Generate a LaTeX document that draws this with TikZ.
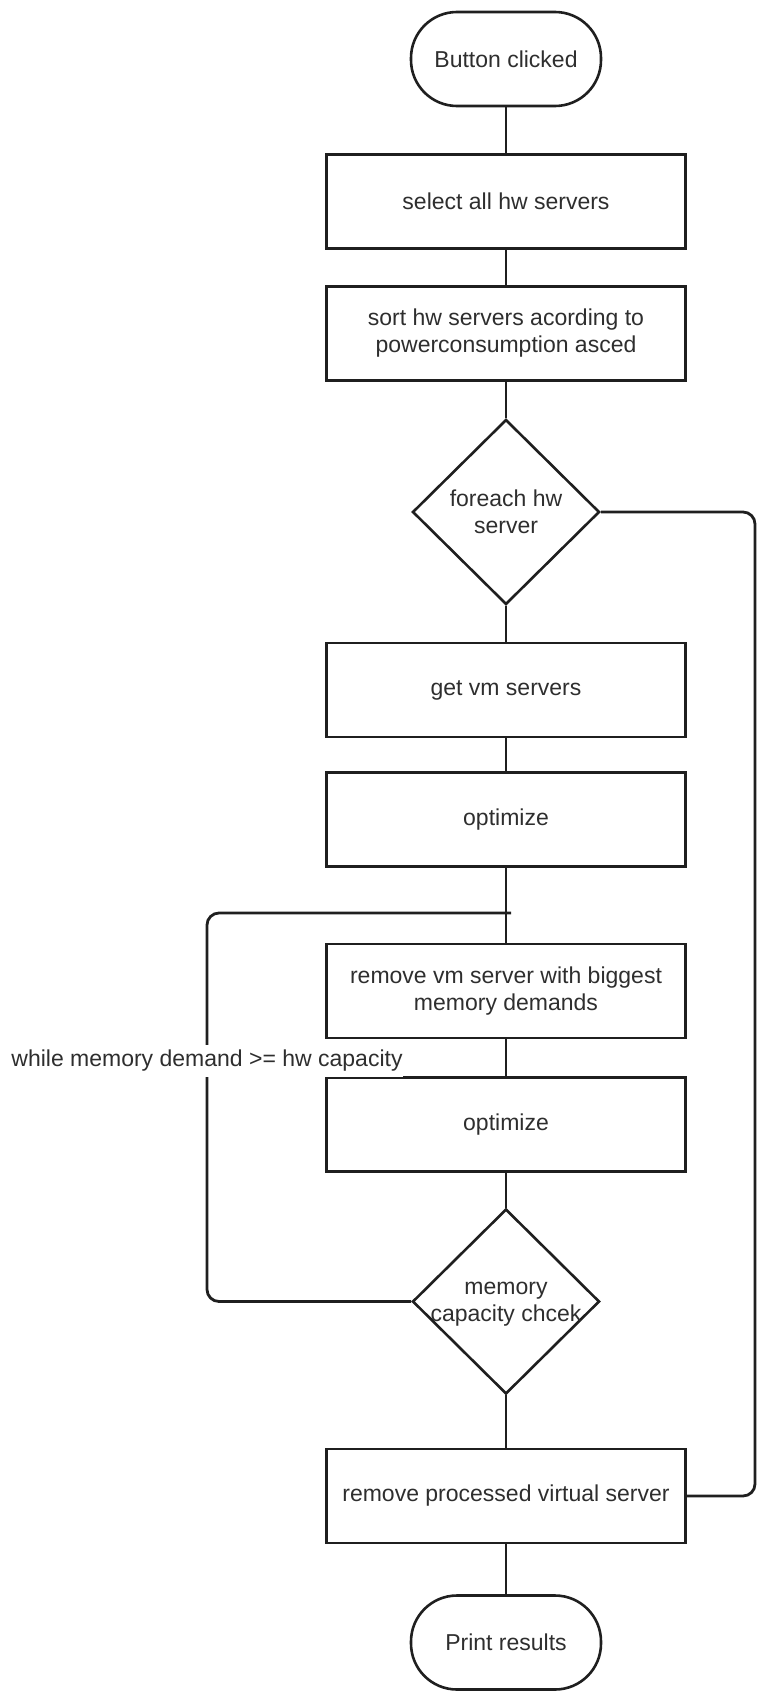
\documentclass[tikz,border=0pt]{standalone}
\usepackage{fontspec}
\setmainfont{Liberation Sans}
\usetikzlibrary{shapes.geometric}
\begin{document}
\begin{tikzpicture}[
  x=1pt, y=-1pt,
  every node/.style={font=\fontsize{23}{27}\selectfont, text=black!82},
  flow/.style={draw=black!88, line width=2.6pt},
  procbox/.style={flow, rectangle, minimum width=359pt, minimum height=94pt, align=center, inner sep=0pt},
  terminal/.style={flow, rectangle, rounded corners=46pt, minimum width=190pt, minimum height=94pt, inner sep=0pt},
  decision/.style={flow, diamond, minimum width=187pt, minimum height=185pt, inner sep=0pt},
  link/.style={draw=black!88, line width=2.8pt},
]
\useasboundingbox (0,0) rectangle (756,1691);

% main column
\node[terminal] (start) at (506,59) {Button clicked};
\node[procbox] (sel) at (506,201.5) {select all hw servers};
\node[procbox] (sort) at (506,333.5) {\raisebox{-3pt}{\parbox{340pt}{\centering sort hw servers acording to\\powerconsumption asced}}};
\node[decision, label={[align=center, font=\fontsize{23}{27}\selectfont, text=black!82]center:foreach hw\\server}] (each) at (506,512) {};
\node[procbox] (getvm) at (506,690) {get vm servers};
\node[procbox] (opt1) at (506,819.5) {optimize};
\node[procbox] (remvm) at (506,991) {\raisebox{-3pt}{\parbox{340pt}{\centering remove vm server with biggest\\memory demands}}};
\node[procbox] (opt2) at (506,1124.5) {optimize};
\node[decision, label={[align=center, font=\fontsize{23}{27}\selectfont, text=black!82, yshift=-3pt]center:memory\\capacity chcek}] (memchk) at (506,1301.5) {};
\node[procbox] (remproc) at (506,1496) {remove processed virtual server};
\node[terminal] (finish) at (506,1642.5) {Print results};

% straight connectors
\draw[link] (start) -- (sel);
\draw[link] (sel) -- (sort);
\draw[link] (sort) -- (each);
\draw[link] (each) -- (getvm);
\draw[link] (getvm) -- (opt1);
\draw[link] (opt1) -- (remvm);
\draw[link] (remvm) -- (opt2);
\draw[link] (opt2) -- (memchk);
\draw[link] (memchk) -- (remproc);
\draw[link] (remproc) -- (finish);

% outer loop back to the foreach decision
\coordinate (rtop) at (755,512);
\coordinate (rbot) at (755,1496);
\draw[link, rounded corners=12pt] (remproc.east) -- (rbot) -- (rtop) -- (each.east);

% inner while loop
\coordinate (lbot) at (207,1301.5);
\coordinate (ltop) at (207,913);
\coordinate (ljoin) at (511,913);
\draw[link, rounded corners=12pt] (memchk.west) -- (lbot) -- (ltop) -- (ljoin);
\node[fill=white, inner xsep=0pt, inner ysep=5pt] (cond) at (207,1061) {while memory demand >= hw capacity};
\end{tikzpicture}
\end{document}
